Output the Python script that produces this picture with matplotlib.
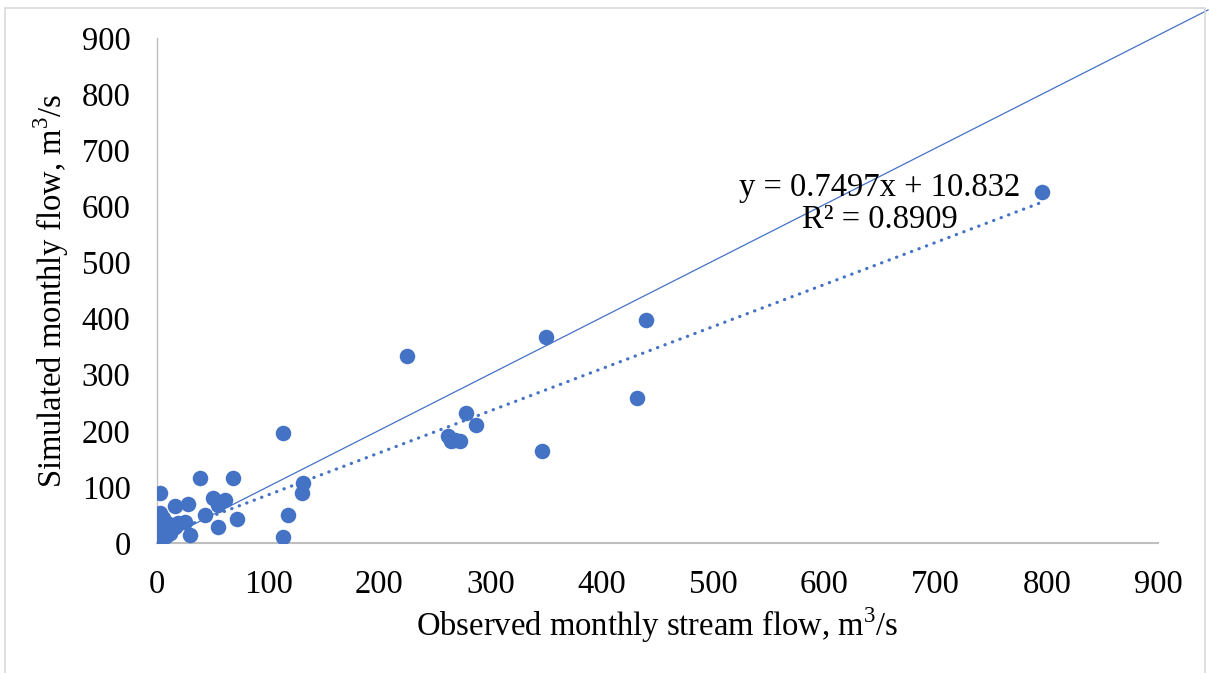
import matplotlib
matplotlib.use("Agg")
import matplotlib.pyplot as plt
import numpy as np
from matplotlib.patches import Rectangle

# Observed (x) and simulated (y) monthly flow, m3/s
observed = [796, 440, 350, 432, 346, 225, 278, 287, 262, 264, 272, 268,
            113, 131, 130, 118, 113, 68, 39, 72, 61, 50, 55, 55, 43, 28,
            16, 25, 30, 16, 12, 3, 3,
            0, 1, 0, 2, 0, 3, 1, 4, 0, 2, 1, 5, 6, 8, 3, 7, 10, 9, 5, 12,
            4, 2, 19, 12]
simulated = [626, 397, 367, 258, 164, 333, 231, 210, 190, 181, 181, 183,
             196, 107, 89, 50, 11, 116, 116, 43, 77, 80, 68, 29, 50, 70,
             66, 37, 14, 29, 18, 89, 53,
             0, 2, 5, 8, 12, 15, 20, 24, 30, 36, 42, 30, 18, 12, 4, 26, 22,
             35, 45, 18, 10, 28, 36, 28]

# Linear trendline
slope = 0.7497
intercept = 10.832
r_squared = 0.8909

# 1:1 reference line end
ref_end = [945, 950]

x_ticks = [0, 100, 200, 300, 400, 500, 600, 700, 800, 900]
y_ticks = [0, 100, 200, 300, 400, 500, 600, 700, 800, 900]

blue = "#4472C4"
plt.rcParams["font.family"] = ["Liberation Serif", "DejaVu Serif"]
plt.rcParams["mathtext.fontset"] = "custom"
plt.rcParams["mathtext.rm"] = "Liberation Serif"

FS = 23.5

fig = plt.figure(figsize=(12.10, 6.73), dpi=100)
ax = fig.add_axes([157/1210, 130/673, (1158-157)/1210, (543-38)/673])

ax.scatter(observed, simulated, s=125, color=blue, zorder=3, linewidths=0)

xs = np.array([min(observed), max(observed)])
ax.plot(xs, slope*xs + intercept, color=blue, lw=2.3,
        linestyle=(0, (0.1, 2.4)), dash_capstyle="round", zorder=2)

ax.plot([0, ref_end[0]], [0, ref_end[1]], color=blue, lw=0.9,
        clip_on=False, zorder=2)

ax.set_xlim(0, 900)
ax.set_ylim(0, 900)
ax.set_xticks(x_ticks)
ax.set_yticks(y_ticks)
ax.tick_params(length=0, labelsize=FS, colors="black")
ax.tick_params(axis="x", pad=19)
ax.tick_params(axis="y", pad=19)

for s in ["top", "right"]:
    ax.spines[s].set_visible(False)
ax.spines["left"].set_color("#BFBFBF")
ax.spines["left"].set_linewidth(1.0)
ax.spines["bottom"].set_color("#BFBFBF")
ax.spines["bottom"].set_linewidth(1.5)

ax.set_xlabel(r"Observed monthly stream flow, m$^{\mathrm{3}}$/s", fontsize=FS, labelpad=4)
ax.set_ylabel(r"Simulated monthly flow, m$^{\mathrm{3}}$/s", fontsize=FS, labelpad=8)

ax.text(650, 605, f"y = {slope}x + {intercept}\nR² = {r_squared}",
        fontsize=FS, ha="center", va="center", linespacing=1.05)

fig.patches.append(Rectangle((5/1210, -0.05), 1200/1210, 1.05 - 8/673,
                             transform=fig.transFigure, fill=False,
                             edgecolor="#D9D9D9", lw=1.2))

fig.savefig("out.png", dpi=100)
